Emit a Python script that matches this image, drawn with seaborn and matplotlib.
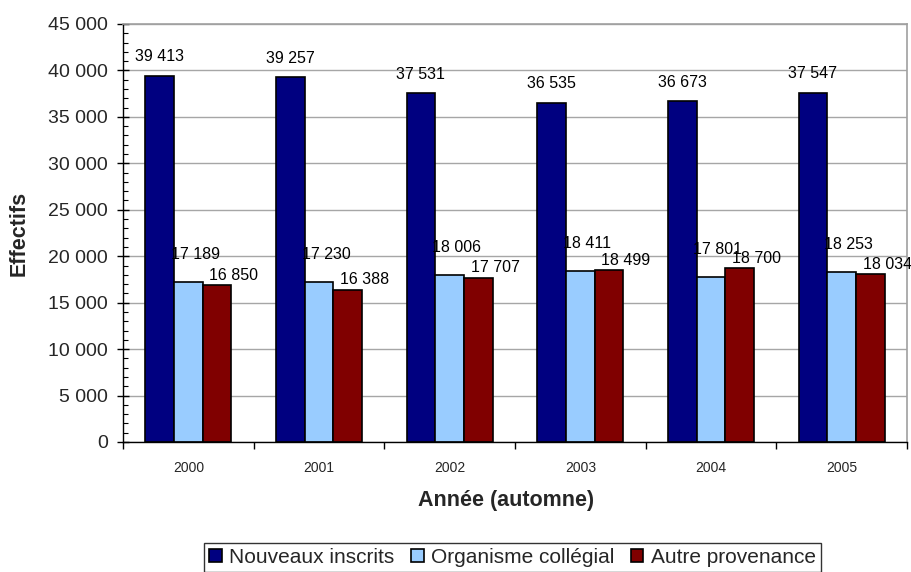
import matplotlib
matplotlib.use("Agg")
import matplotlib.pyplot as plt
import seaborn as sns
import pandas as pd
from matplotlib.ticker import FuncFormatter, MultipleLocator, FixedLocator

# ---- data ----
years = ["2000", "2001", "2002", "2003", "2004", "2005"]
nouveaux = [39413, 39257, 37531, 36535, 36673, 37547]
organisme = [17189, 17230, 18006, 18411, 17801, 18253]
autre = [16850, 16388, 17707, 18499, 18700, 18034]
series_names = ["Nouveaux inscrits", "Organisme collégial", "Autre provenance"]

# ---- style ----
colors = ["#000080", "#99CCFF", "#800000"]
label_offsets = [(0, 8.5), (5.0, 14.5), (12.0, 1.8)]  # (dx, dy) in points per series

sns.set_theme(style="white")
plt.rcParams["font.family"] = ["Liberation Sans", "DejaVu Sans"]

df = pd.DataFrame({
    "Année": years * 3,
    "Effectifs": nouveaux + organisme + autre,
    "Série": [s for s in series_names for _ in years],
})


def fmt_space(v, pos=None):
    return f"{int(round(v)):,}".replace(",", " ")


fig = plt.figure(figsize=(9.12, 5.72), dpi=100)
ax = fig.add_axes([123 / 912, 1 - 442 / 572, 784 / 912, 418 / 572])

sns.barplot(data=df, x="Année", y="Effectifs", hue="Série", hue_order=series_names,
            palette=colors, width=0.66, gap=0, edgecolor="black", linewidth=1.2,
            saturation=1, errorbar=None, ax=ax)

for cont, (dx, dy) in zip(ax.containers, label_offsets):
    anns = ax.bar_label(cont, fmt=lambda v: fmt_space(v), padding=dy, fontsize=11.5, color="black")
    for a in anns:
        a.xyann = (dx, dy)

ax.set_xlim(-0.5, len(years) - 0.5)
ax.set_ylim(0, 45000)
ax.yaxis.set_major_locator(MultipleLocator(5000))
ax.yaxis.set_minor_locator(MultipleLocator(1000))
ax.yaxis.set_major_formatter(FuncFormatter(fmt_space))
ax.xaxis.set_minor_locator(FixedLocator([i - 0.5 for i in range(len(years) + 1)]))

ax.tick_params(axis="y", which="major", left=True, direction="inout", length=8, width=1,
               labelsize=14, pad=7, color="black")
ax.tick_params(axis="y", which="minor", left=True, direction="in", length=3.5, width=0.8, color="black")
ax.tick_params(axis="x", which="major", bottom=True, length=0, labelsize=10, pad=14)
ax.tick_params(axis="x", which="minor", bottom=True, direction="out", length=5, width=1, color="black")

ax.set_axisbelow(True)
ax.yaxis.grid(True, which="major", color="#a6a6a6", linewidth=1)
for side in ["left", "bottom"]:
    ax.spines[side].set_color("black")
    ax.spines[side].set_linewidth(1)
for side in ["top", "right"]:
    ax.spines[side].set_color("#a0a0a0")
    ax.spines[side].set_linewidth(1.2)

ax.set_xlabel("Année (automne)", fontsize=15.5, fontweight="bold")
ax.set_ylabel("Effectifs", fontsize=15.5, fontweight="bold")
ax.xaxis.set_label_coords(0.4885, -0.114)
ax.yaxis.set_label_coords(-0.119, 0.5)

handles, labels = ax.get_legend_handles_labels()
ax.get_legend().remove()
leg = fig.legend(handles, labels, loc="center", bbox_to_anchor=(0.562, 0.025),
                 bbox_transform=fig.transFigure, ncol=3, fontsize=15, frameon=True,
                 fancybox=False, edgecolor="black", handlelength=0.6, handleheight=0.6,
                 handletextpad=0.35, columnspacing=0.8, borderpad=0.25, borderaxespad=0)
leg.get_frame().set_linewidth(1)

fig.savefig("out.png", dpi=100)
